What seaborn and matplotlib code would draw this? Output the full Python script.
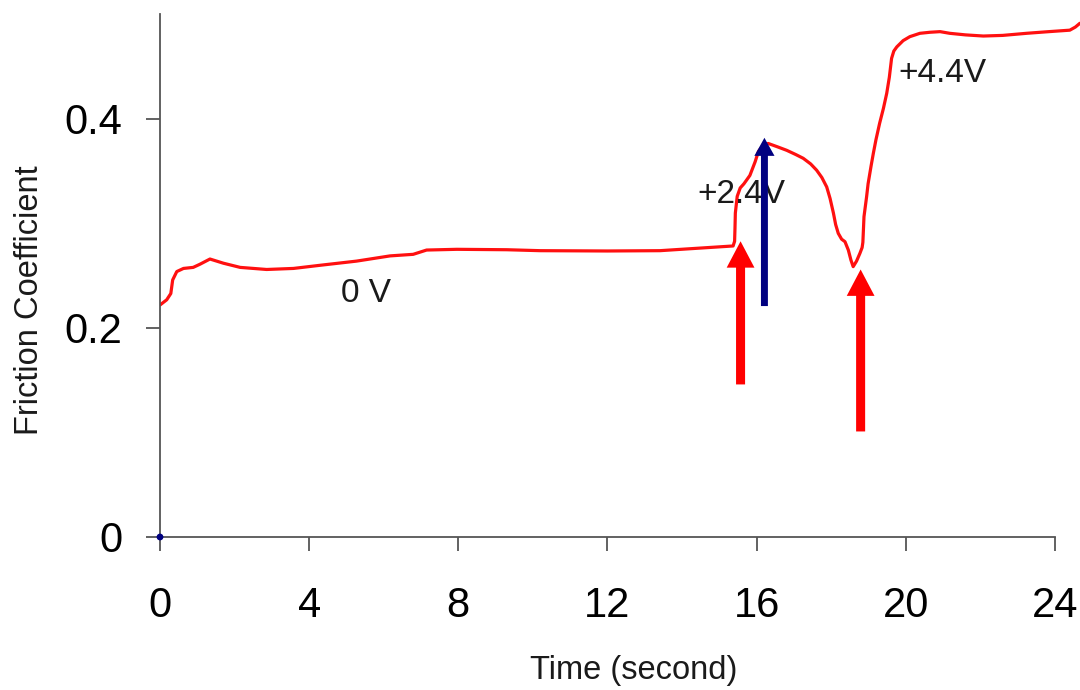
import matplotlib
matplotlib.use("Agg")
import matplotlib.pyplot as plt
import seaborn as sns
import pandas as pd

# Friction trace recorded while the applied potential is stepped
time_s = [0.00, 0.18, 0.29, 0.34, 0.45, 0.63, 0.89, 1.07, 1.34, 1.70, 2.15, 2.86,
          3.58, 4.29, 5.27, 6.17, 6.79, 7.15, 7.96, 9.30, 10.19, 12.00, 13.41,
          15.37, 15.41, 15.42, 15.43, 15.48, 15.56, 15.66, 15.82, 15.96, 16.05,
          16.18, 16.31, 16.55, 16.81, 17.05, 17.25, 17.45, 17.61, 17.75, 17.88,
          17.97, 18.06, 18.12, 18.19, 18.28, 18.37, 18.46, 18.53, 18.59, 18.68,
          18.77, 18.83, 18.85, 18.86, 18.88, 18.95, 18.99, 19.07, 19.13, 19.20,
          19.30, 19.40, 19.49, 19.56, 19.62, 19.68, 19.76, 19.93, 20.11, 20.38,
          20.65, 20.92, 21.18, 21.60, 22.08, 22.60, 23.24, 23.80, 24.40, 24.55,
          24.67]
friction = [0.222, 0.227, 0.233, 0.246, 0.254, 0.257, 0.258, 0.261, 0.266, 0.262,
            0.258, 0.256, 0.257, 0.260, 0.264, 0.269, 0.2705, 0.2746, 0.2753,
            0.2749, 0.274, 0.2737, 0.274, 0.2785, 0.283, 0.295, 0.310, 0.326,
            0.334, 0.338, 0.346, 0.359, 0.369, 0.375, 0.3766, 0.3735, 0.370,
            0.366, 0.3624, 0.357, 0.351, 0.344, 0.335, 0.324, 0.310, 0.299,
            0.2906, 0.285, 0.2826, 0.2746, 0.265, 0.2587, 0.264, 0.2714, 0.277,
            0.282, 0.290, 0.3065, 0.3256, 0.338, 0.355, 0.367, 0.380, 0.396,
            0.410, 0.4246, 0.440, 0.458, 0.465, 0.469, 0.475, 0.4788, 0.482,
            0.483, 0.4836, 0.482, 0.4805, 0.4794, 0.480, 0.482, 0.4835, 0.485,
            0.488, 0.4916]

x_ticks = [0, 4, 8, 12, 16, 20, 24]
y_ticks = [0.0, 0.2, 0.4]
y_tick_labels = ["0", "0.2", "0.4"]

# Voltage labels: text, time, friction baseline
voltage_labels = ["0 V", "+2.4V", "+4.4V"]
voltage_x = [5.52, 15.58, 20.99]
voltage_y = [0.225, 0.320, 0.4357]

# Arrows marking the switching events: time, tail, tip
red_arrow_x = [15.57, 18.79]
red_arrow_tail = [0.146, 0.101]
red_arrow_tip = [0.283, 0.256]
blue_arrow_x = [16.21]
blue_arrow_tail = [0.221]
blue_arrow_tip = [0.382]

sns.set_theme(style="white")
plt.rcParams["font.family"] = ["Liberation Sans", "DejaVu Sans"]

fig = plt.figure(figsize=(10.8, 6.9), dpi=100)
ax = fig.add_axes([160 / 1080, 1 - 537 / 690, 921 / 1080, 522.5 / 690])

df = pd.DataFrame({"time": time_s, "friction": friction})
sns.lineplot(data=df, x="time", y="friction", ax=ax, color="#ff1010",
             linewidth=2.3, sort=False, estimator=None)
sns.scatterplot(x=[0], y=[0], ax=ax, color="#000080", s=24, edgecolor="none",
                zorder=5, clip_on=False)

for txt, tx, ty in zip(voltage_labels, voltage_x, voltage_y):
    ax.text(tx, ty, txt, ha="center", va="baseline", fontsize=24,
            color="#1a1a1a")

for xa, y0, y1 in zip(red_arrow_x, red_arrow_tail, red_arrow_tip):
    ax.annotate("", xy=(xa, y1), xytext=(xa, y0),
                arrowprops=dict(arrowstyle="simple,head_length=19,head_width=20,tail_width=6.5",
                                color="#ff0000", mutation_scale=1,
                                shrinkA=0, shrinkB=0, linewidth=0))
for xa, y0, y1 in zip(blue_arrow_x, blue_arrow_tail, blue_arrow_tip):
    ax.annotate("", xy=(xa, y1), xytext=(xa, y0),
                arrowprops=dict(arrowstyle="simple,head_length=13,head_width=14.5,tail_width=5",
                                color="#000080", mutation_scale=1,
                                shrinkA=0, shrinkB=0, linewidth=0))

ax.set_xlim(0, 24.7)
ax.set_ylim(0, 0.5)
ax.set_xticks(x_ticks)
ax.set_yticks(y_ticks)
ax.set_yticklabels(y_tick_labels)

sns.despine(ax=ax)
for side in ("left", "bottom"):
    ax.spines[side].set_color("#555555")
    ax.spines[side].set_linewidth(1.3)
ax.spines["bottom"].set_bounds(0, 24)

ax.tick_params(axis="both", which="major", direction="out", length=10,
               width=1.3, color="#555555", labelcolor="black")
ax.tick_params(axis="x", labelsize=30, pad=25, bottom=True)
ax.tick_params(axis="y", labelsize=30, pad=17, left=True)

ax.set_xlabel("Time (second)", fontsize=23.5, color="#1a1a1a")
ax.set_ylabel("Friction Coefficient", fontsize=23.5, color="#1a1a1a")
ax.xaxis.set_label_coords(0.5147, -0.226)
ax.yaxis.set_label_coords(-0.125, 0.4536)

fig.savefig("out.png", dpi=100)
